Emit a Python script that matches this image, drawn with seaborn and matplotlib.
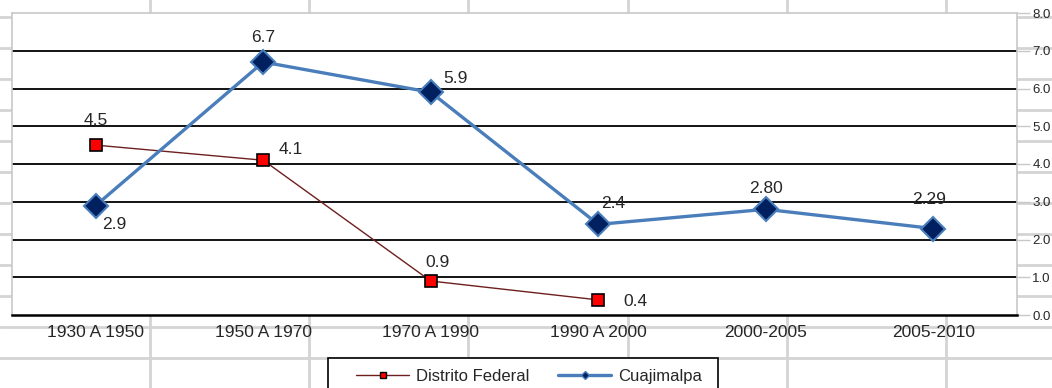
import numpy as np
import pandas as pd
import matplotlib
matplotlib.use("Agg")
import matplotlib.pyplot as plt
from matplotlib.lines import Line2D
from matplotlib.patches import Rectangle
import seaborn as sns

# datos
periodos = ["1930 A 1950", "1950 A 1970", "1970 A 1990", "1990 A 2000", "2000-2005", "2005-2010"]
distrito_federal = [4.5, 4.1, 0.9, 0.4]
cuajimalpa = [2.9, 6.7, 5.9, 2.4, 2.80, 2.29]
etiquetas_df = ["4.5", "4.1", "0.9", "0.4"]
etiquetas_cuaj = ["2.9", "6.7", "5.9", "2.4", "2.80", "2.29"]
ticks_y = [0, 1, 2, 3, 4, 5, 6, 7, 8]

sns.set_style("white")
plt.rcParams["font.family"] = ["Liberation Sans", "DejaVu Sans"]

df = pd.DataFrame({
    "pos": list(range(len(distrito_federal))) + list(range(len(cuajimalpa))),
    "valor": distrito_federal + cuajimalpa,
    "serie": ["Distrito Federal"] * len(distrito_federal) + ["Cuajimalpa"] * len(cuajimalpa),
})

W, H = 1052, 388
fig = plt.figure(figsize=(W / 100, H / 100), dpi=100)

# fondo tipo hoja de calculo
bg = fig.add_axes([0, 0, 1, 1], zorder=-10)
bg.set_xlim(0, W)
bg.set_ylim(H, 0)
bg.axis("off")
for yy in np.arange(17, H, 31.0):
    bg.axhline(yy, color="#d4d4d4", lw=2)
for xx in np.arange(150, W, 159.2):
    bg.axvline(xx, color="#d4d4d4", lw=2)
# marco de la leyenda (se corta abajo)
bg.add_patch(Rectangle((328, 358), 390, 45, facecolor="white", edgecolor="black",
                       lw=1.2, zorder=3))

ax = fig.add_axes([12 / W, 1 - 315 / H, (1017 - 12) / W, (315 - 13) / H])
ax.set_facecolor("white")

sns.lineplot(data=df[df.serie == "Distrito Federal"], x="pos", y="valor", ax=ax,
             color="#6e1f1f", lw=1.0, marker="s", markersize=9,
             markerfacecolor="#ff0000", markeredgecolor="black", markeredgewidth=1.2,
             legend=False, zorder=4)
sns.lineplot(data=df[df.serie == "Cuajimalpa"], x="pos", y="valor", ax=ax,
             color="#4a7ebb", lw=2.4, marker="D", markersize=12,
             markerfacecolor="#002060", markeredgecolor="#4a7ebb", markeredgewidth=1.5,
             legend=False, zorder=5)

ax.set_xlim(-0.5, len(periodos) - 0.5)
ax.set_ylim(0, 8)
ax.set_xticks(range(len(periodos)))
ax.set_xticklabels(periodos, fontsize=12.5)
ax.set_yticks(ticks_y)
ax.set_yticklabels([f"{t:.1f}" for t in ticks_y], fontsize=9.5)
ax.yaxis.tick_right()
ax.tick_params(axis="x", length=0, pad=7)
ax.tick_params(axis="y", right=True, left=False, length=9, width=1, color="#c8c8c8", pad=2)
ax.set_xlabel("")
ax.set_ylabel("")

for t in ticks_y[1:-1]:
    ax.axhline(t, color="black", lw=1.3, zorder=1)

for s in ["left", "top", "right"]:
    ax.spines[s].set_color("#c8c8c8")
    ax.spines[s].set_linewidth(1.2)
ax.spines["bottom"].set_color("black")
ax.spines["bottom"].set_linewidth(1.8)

# etiquetas de datos
off_df = [(0, 18), (20, 8), (5, 13), (27, -1)]
for i, (v, lab) in enumerate(zip(distrito_federal, etiquetas_df)):
    ax.annotate(lab, (i, v), xytext=off_df[i], textcoords="offset points",
                ha="center", va="center", fontsize=12.5)
off_cu = [(13, -14), (0, 18), (18, 10), (11, 15), (0, 15), (-3, 21)]
for i, (v, lab) in enumerate(zip(cuajimalpa, etiquetas_cuaj)):
    ax.annotate(lab, (i, v), xytext=off_cu[i], textcoords="offset points",
                ha="center", va="center", fontsize=12.5)

handles = [
    Line2D([], [], color="#6e1f1f", lw=1.0, marker="s", markersize=5,
           markerfacecolor="#ff0000", markeredgecolor="black", markeredgewidth=1),
    Line2D([], [], color="#4a7ebb", lw=2.4, marker="D", markersize=4,
           markerfacecolor="#002060", markeredgecolor="#4a7ebb"),
]
leg = fig.legend(handles, ["Distrito Federal", "Cuajimalpa"], loc="upper left",
                 bbox_to_anchor=(356 / W, 1 - 369 / H), ncol=2, fontsize=12,
                 frameon=False, handlelength=3.2, handletextpad=0.42,
                 columnspacing=1.7, borderpad=0, borderaxespad=0)

fig.savefig("out.png", dpi=100)
